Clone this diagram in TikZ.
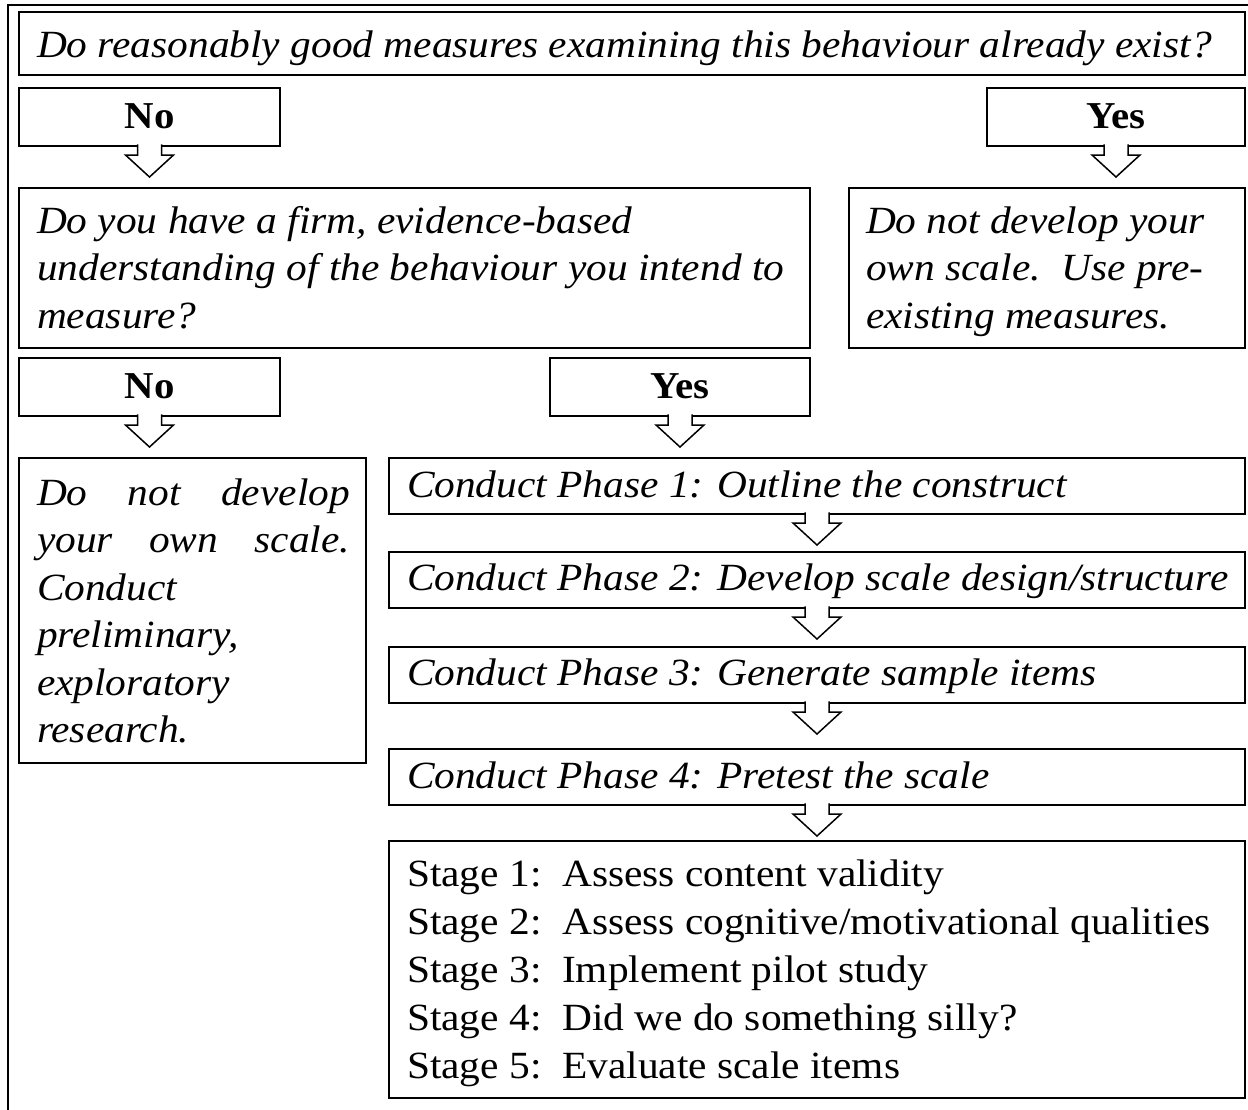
\documentclass[tikz,border=0pt]{standalone}
\usepackage{fontspec}
\setmainfont{Liberation Serif}[FakeStretch=1.075]
\usetikzlibrary{calc}
\newcommand\blockarr[1]{\draw[barrow] ($(#1.south)+(-12,-1.6)$) -- ++(0,10.6) -- ++(-12,0) -- ++(24,22) -- ++(24,-22) -- ++(-12,0) -- ++(0,-10.6);}
\begin{document}
\begin{tikzpicture}[x=1pt,y=-1pt,
  box/.style={draw, line width=1.5pt, rectangle, inner sep=0pt, outer sep=0pt, anchor=north west},
  barrow/.style={draw, fill=white, line width=1.5pt, line join=miter},
  txt/.style={inner sep=0pt, outer sep=0pt, anchor=base west, font=\fontsize{38.5}{47.5}\selectfont},
  btxt/.style={inner sep=0pt, outer sep=0pt, anchor=base, font=\fontsize{38}{47.5}\selectfont\bfseries}]
\useasboundingbox (0,0) rectangle (1248,1109);
% outer frame (cut off at right and bottom)
\draw[line width=2pt] (8,1112) -- (8,5) -- (1252,5);
% boxes
\node[box, minimum width=1226pt, minimum height=63pt] (q1) at (19,12) {};
\node[box, minimum width=261pt, minimum height=58pt] (no1) at (19,88) {};
\node[box, minimum width=258pt, minimum height=58pt] (yes1) at (987,88) {};
\node[box, minimum width=791pt, minimum height=160pt] (q2) at (19,188) {};
\node[box, minimum width=396pt, minimum height=160pt] (a1) at (849,188) {};
\node[box, minimum width=261pt, minimum height=58pt] (no2) at (19,358) {};
\node[box, minimum width=260pt, minimum height=58pt] (yes2) at (550,358) {};
\node[box, minimum width=347pt, minimum height=305pt] (a2) at (19,458) {};
\node[box, minimum width=856pt, minimum height=56pt] (p1) at (389,458) {};
\node[box, minimum width=856pt, minimum height=56pt] (p2) at (389,552) {};
\node[box, minimum width=856pt, minimum height=56pt] (p3) at (389,647) {};
\node[box, minimum width=856pt, minimum height=56pt] (p4) at (389,749) {};
\node[box, minimum width=856pt, minimum height=257pt] (st) at (389,841) {};
% block arrows
\blockarr{no1}
\blockarr{yes1}
\blockarr{no2}
\blockarr{yes2}
\blockarr{p1}
\blockarr{p2}
\blockarr{p3}
\blockarr{p4}
% texts
\node[txt] (tq1) at (37,57) {\itshape Do reasonably good measures examining this behaviour already exist?};
\node[btxt] (tno1) at (no1.center |- 0,128) {No};
\node[btxt] (tyes1) at (yes1.center |- 0,128) {Yes};
\node[btxt] (tno2) at (no2.center |- 0,398) {No};
\node[btxt] (tyes2) at (yes2.center |- 0,398) {Yes};
\node[txt] (tq2) at (37,233) {\parbox[t]{760pt}{\itshape Do you have a firm, evidence-based\\ understanding of the behaviour you intend to\\ measure?}};
\node[txt] (ta1) at (866,233) {\parbox[t]{370pt}{\itshape Do not develop your\\ own scale.\ \ Use pre-\\ existing measures.}};
\node[txt] (ta2) at (37,505) {\parbox[t]{313pt}{\itshape \leavevmode\hbox to 313pt{Do\hfill not\hfill develop}\\ \hbox to 313pt{your\hfill own\hfill scale.}\\ Conduct\\ preliminary,\\ exploratory\\ research.}};
\node[txt] (tp1) at (407,497) {\itshape Conduct Phase 1: Outline the construct};
\node[txt] (tp2) at (407,590) {\itshape Conduct Phase 2: Develop scale design/structure};
\node[txt] (tp3) at (407,685) {\itshape Conduct Phase 3: Generate sample items};
\node[txt] (tp4) at (407,788) {\itshape Conduct Phase 4: Pretest the scale};
\node[txt] (tst) at (407,886) {\parbox[t]{830pt}{\baselineskip=48pt Stage 1:\ \ Assess content validity\\ Stage 2:\ \ Assess cognitive/motivational qualities\\ Stage 3:\ \ Implement pilot study\\ Stage 4:\ \ Did we do something silly?\\ Stage 5:\ \ Evaluate scale items}};
\end{tikzpicture}
\end{document}
